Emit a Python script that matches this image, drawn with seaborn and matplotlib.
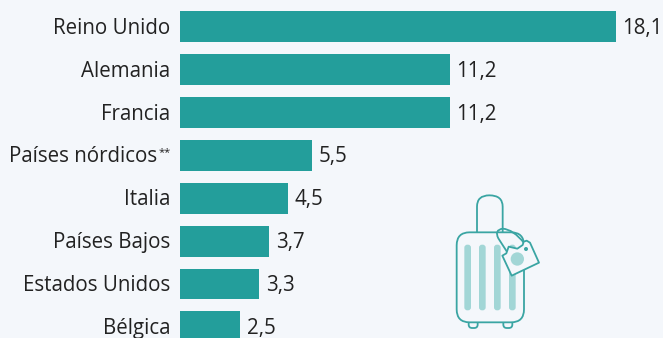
import matplotlib
matplotlib.use("Agg")
import matplotlib.pyplot as plt
from matplotlib.patches import FancyBboxPatch, Circle, Polygon, PathPatch
from matplotlib.path import Path
import pandas as pd
import seaborn as sns

categories = ["Reino Unido", "Alemania", "Francia", "Países nórdicos**", "Italia",
              "Países Bajos", "Estados Unidos", "Bélgica"]
values = [18.1, 11.2, 11.2, 5.5, 4.5, 3.7, 3.3, 2.5]

BG = "#f4f7fb"
TEAL = "#239e9b"
LINE = "#3aa5a3"
PALE = "#a2d6d6"
INK = "#222222"
FONT_SIZE = 14.8

W, H = 663, 338
sns.set_theme(style="white")
plt.rcParams["font.family"] = ["Open Sans", "DejaVu Sans"]

fig = plt.figure(figsize=(W / 100, H / 100), dpi=100, facecolor=BG)
ax = fig.add_axes([0, 0, 1, 1], facecolor=BG)

df = pd.DataFrame({"pais": categories, "valor": values})
sns.barplot(data=df, x="valor", y="pais", color=TEAL, saturation=1, width=0.72, ax=ax, linewidth=0)

# Scale: 24.09 px per unit, zero at x=180; rows 42.85 px apart, first centred at y=26.9
px_per_unit = 24.09
pitch = 42.85
ax.set_xlim(-180 / px_per_unit, (W - 180) / px_per_unit)
ax.set_ylim((H - 26.9) / pitch, -26.9 / pitch)
ax.set_xlabel("")
ax.set_ylabel("")
ax.set_xticks([])
ax.set_yticks([])
sns.despine(ax=ax, left=True, bottom=True)

for i, (name, val) in enumerate(zip(categories, values)):
    base = name.rstrip("*")
    stars = name[len(base):]
    right = -10
    if stars:
        # footnote marks sit small and raised after the name
        ax.annotate(stars, (0, i), xytext=(-9, 4), textcoords="offset pixels",
                    ha="right", va="center_baseline", fontsize=8, color=INK)
        right = -22.5
    ax.annotate(base, (0, i), xytext=(right, 1), textcoords="offset pixels",
                ha="right", va="center_baseline", fontsize=FONT_SIZE, color=INK)
    ax.annotate(f"{val:.1f}".replace(".", ","), (val, i), xytext=(6.5, 1),
                textcoords="offset pixels", ha="left", va="center_baseline",
                fontsize=FONT_SIZE, color=INK)

# Suitcase icon, drawn on an overlay in pixel coordinates
icon = fig.add_axes([0, 0, 1, 1], facecolor="none")
icon.set_xlim(0, W)
icon.set_ylim(H, 0)
icon.axis("off")


def zx(v):
    return 430 + v / 3


def zy(v):
    return 190 + v / 3


lw = 1.3
# handle
handle = Path([(zx(141), zy(127)), (zx(141), zy(50)), (zx(141), zy(16)), (zx(178), zy(16)),
               (zx(218), zy(16)), (zx(218), zy(50)), (zx(218), zy(127))],
              [Path.MOVETO, Path.LINETO, Path.CURVE3, Path.CURVE3, Path.CURVE3, Path.CURVE3, Path.LINETO])
icon.add_patch(PathPatch(handle, fill=False, ec=LINE, lw=lw))
# wheels
for x0 in (116, 220):
    icon.add_patch(FancyBboxPatch((zx(x0), zy(390)), 27 / 3, 24 / 3, boxstyle="round,pad=0,rounding_size=3.5",
                                  fc=BG, ec=LINE, lw=lw))
# body
icon.add_patch(FancyBboxPatch((zx(80), zy(127)), 202 / 3, 270 / 3, boxstyle="round,pad=0,rounding_size=13",
                              fc=BG, ec=LINE, lw=lw))
# stripes
for x0 in (103, 147, 192, 237):
    icon.add_patch(FancyBboxPatch((zx(x0), zy(164)), 20 / 3, 197 / 3, boxstyle="round,pad=0,rounding_size=3",
                                  fc=PALE, ec="none"))
# luggage tag strap
strap = Path([(zx(283), zy(160)), (zx(250), zy(118)), (zx(218), zy(116)),
              (zx(192), zy(120)), (zx(205), zy(145)), (zx(232), zy(187))],
             [Path.MOVETO, Path.CURVE3, Path.CURVE3, Path.CURVE3, Path.CURVE3, Path.LINETO])
icon.add_patch(PathPatch(strap, fill=False, ec=LINE, lw=lw))
# tag body
tag = [(217, 197), (229, 190), (236, 170), (262, 176), (278, 165), (281, 155), (290, 152), (300, 158),
       (327, 218), (245, 257)]
icon.add_patch(Polygon([(zx(a), zy(b)) for a, b in tag], closed=True, fc=BG, ec=LINE, lw=lw, joinstyle="round"))
icon.add_patch(Circle((zx(262), zy(207)), 20 / 3, fc=PALE, ec="none"))
icon.add_patch(Circle((zx(288), zy(177)), 6 / 3, fc=LINE, ec="none"))

fig.savefig("out.png", dpi=100, facecolor=BG)
